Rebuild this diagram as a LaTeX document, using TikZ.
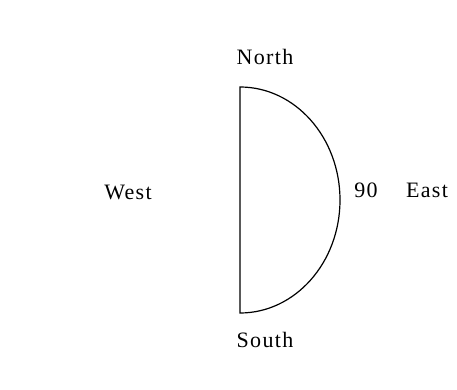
\documentclass[tikz,border=0pt]{standalone}
\usepackage{fontspec}
\setmainfont{Liberation Serif}[LetterSpace=6]
\begin{document}
\begin{tikzpicture}[x=1pt,y=-1pt,
  lbl/.style={inner sep=0pt, font=\fontsize{22}{25}\selectfont},
  edge/.style={line width=1.2pt, black}]
\useasboundingbox[fill=white] (0,0) rectangle (457,390);
\coordinate (n) at (240,87);
\coordinate (s) at (240,313);
\draw[edge] (s) -- (n) arc[start angle=90, end angle=-90, x radius=100pt, y radius=113pt] -- cycle;
\node[lbl] (north) at (265,57) {North};
\node[lbl] (south) at (265,340) {South};
\node[lbl] (west) at (128,192) {West};
\node[lbl] (ninety) at (366,190) {90};
\node[lbl] (east) at (427,190) {East};
\end{tikzpicture}
\end{document}
